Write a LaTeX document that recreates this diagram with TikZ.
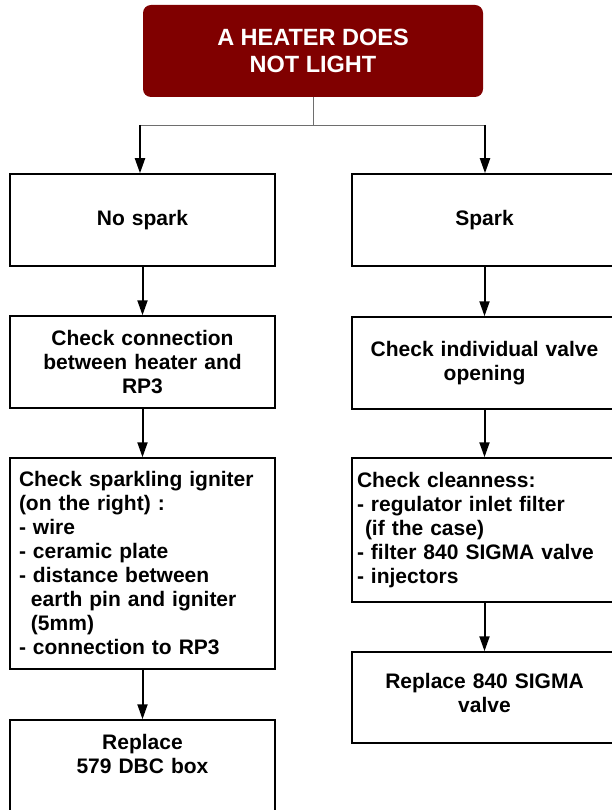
\documentclass[tikz,border=0pt]{standalone}
\usepackage{fontspec}
\setmainfont{Liberation Sans}
\usetikzlibrary{arrows.meta,positioning,calc}
\definecolor{cRedD}{HTML}{800000}
\definecolor{cGrayD}{HTML}{6E6E6E}
\tikzset{
  blk/.style   = {draw=black, line width=1.5pt, fill=white, inner xsep=9pt, inner ysep=2pt,
                  text width=247pt, minimum height=92pt, align=center,
                  font=\fontsize{21}{24}\selectfont\bfseries},
  lblk/.style  = {blk, align=left},
  head/.style  = {rounded corners=8pt, fill=cRedD, text=white, minimum width=340pt,
                  minimum height=92pt, align=center,
                  font=\fontsize{23.5}{27}\selectfont\bfseries},
  arr/.style   = {line width=2pt, -{Triangle[length=15pt,width=10pt]}},
  split/.style = {cGrayD, line width=0.9pt},
}
\begin{document}
\begin{tikzpicture}[x=1pt,y=-1pt]
  \useasboundingbox (0,0) rectangle (611,810);
  \node[head] (heater) at (313,51) {A HEATER DOES\\NOT LIGHT};
  % left branch
  \node[blk] (nospark) at (142.5,220) {No spark};
  \node[blk] (conn) at (142.5,362) {Check connection\\between heater and\\RP3};
  \node[lblk, minimum height=211pt] (igniter) at (142.5,563.5) {Check sparkling igniter\\(on the right) :\\- wire\\- ceramic plate\\- distance between\\\hspace*{12pt}earth pin and igniter\\\hspace*{12pt}(5mm)\\- connection to RP3};
  \node[blk] (dbc) at (142.5,766) {Replace\\579 DBC box\\\mbox{}};
  % right branch
  \node[blk] (spark) at (484.5,220) {Spark};
  \node[blk] (valve) at (484.5,363) {Check individual valve\\opening};
  \node[lblk, minimum height=144pt, inner xsep=5pt, text width=255pt] (clean) at (484.5,530) {Check cleanness:\\- regulator inlet filter\\\hspace*{8pt}(if the case)\\- filter 840 SIGMA valve\\- injectors};
  \node[blk, minimum height=91pt] (sigma) at (484.5,697.5) {Replace 840 SIGMA\\valve\\[-14pt]\mbox{}};
  % fork under the title
  \coordinate (fork) at (313,125);
  \draw[split] (heater.south) -- (fork);
  \draw[split] ([xshift=-2.5pt]nospark.north |- fork) -- ([xshift=0.5pt]spark.north |- fork);
  \draw[arr] ([xshift=-2.5pt]nospark.north |- fork) -- ([xshift=-2.5pt]nospark.north);
  \draw[arr] ([xshift=0.5pt]spark.north |- fork) -- ([xshift=0.5pt]spark.north);
  \draw[arr] (nospark.south) -- (conn.north);
  \draw[arr] (conn.south) -- (igniter.north);
  \draw[arr] (igniter.south) -- (dbc.north);
  \draw[arr] (spark.south) -- (valve.north);
  \draw[arr] (valve.south) -- (clean.north);
  \draw[arr] (clean.south) -- (sigma.north);
\end{tikzpicture}
\end{document}
